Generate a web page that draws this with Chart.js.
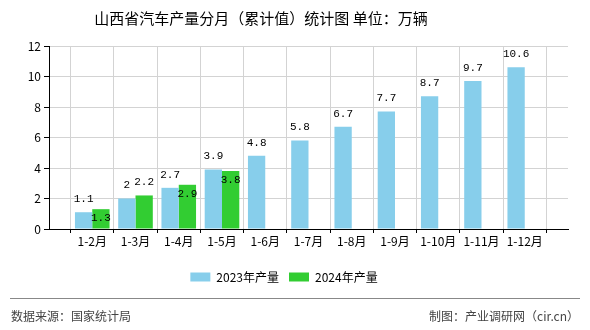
<!DOCTYPE html>
<html>
<head>
<meta charset="utf-8">
<script src="https://cdn.jsdelivr.net/npm/chart.js@4"></script>
<style>
  html, body { margin: 0; padding: 0; background: #fff; }
  #wrap { width: 590px; height: 330px; }
</style>
</head>
<body>
<div id="wrap"><canvas id="chart"></canvas></div>
<script>
const categories = ["", "1-2月", "1-3月", "1-4月", "1-5月", "1-6月", "1-7月", "1-8月", "1-9月", "1-10月", "1-11月", "1-12月", ""];
const output2023 = [null, 1.1, 2, 2.7, 3.9, 4.8, 5.8, 6.7, 7.7, 8.7, 9.7, 10.6, null];
const output2024 = [null, 1.3, 2.2, 2.9, 3.8, null, null, null, null, null, null, null, null];
const yTicks = [0, 2, 4, 6, 8, 10, 12];

const cjk = "'Noto Sans CJK SC', 'Noto Sans', sans-serif";

// value labels above the bars (some of the 2024 ones sit inside the bar top)
const valueLabels = {
  id: "valueLabels",
  afterDatasetsDraw(chart, args, opts) {
    const ctx = chart.ctx;
    ctx.save();
    ctx.font = "11px 'Liberation Mono', monospace";
    ctx.fillStyle = "#000";
    ctx.textAlign = "center";
    ctx.textBaseline = "middle";
    chart.data.datasets.forEach((ds, di) => {
      chart.getDatasetMeta(di).data.forEach((bar, i) => {
        const v = ds.data[i];
        if (v == null) return;
        const inside = (opts.inside[di] || []).includes(i);
        ctx.fillText(String(v), bar.x, bar.y + (inside ? 9 : -13));
      });
    });
    ctx.restore();
  },
};

// title and footer
const frame = {
  id: "frame",
  afterDraw(chart) {
    const ctx = chart.ctx;
    ctx.save();
    ctx.fillStyle = "#000";
    ctx.font = "15px " + cjk;
    ctx.textAlign = "center";
    ctx.textBaseline = "middle";
    ctx.fillText("山西省汽车产量分月（累计值）统计图 单位：万辆", 261, 18);

    ctx.strokeStyle = "#888";
    ctx.lineWidth = 1;
    ctx.beginPath();
    ctx.moveTo(10, 298.5);
    ctx.lineTo(580, 298.5);
    ctx.stroke();

    ctx.fillStyle = "#444";
    ctx.font = "12px " + cjk;
    ctx.textAlign = "left";
    ctx.fillText("数据来源：国家统计局", 11, 316);
    ctx.textAlign = "right";
    ctx.fillText("制图：产业调研网（cir.cn）", 579, 316);
    ctx.restore();
  },
};

new Chart(document.getElementById("chart"), {
  type: "bar",
  data: {
    labels: categories,
    datasets: [
      {
        label: "2023年产量",
        data: output2023,
        backgroundColor: "#87CEEB",
        categoryPercentage: 0.8,
        barPercentage: 1,
      },
      {
        label: "2024年产量",
        data: output2024,
        backgroundColor: "#32CD32",
        categoryPercentage: 0.8,
        barPercentage: 1,
      },
    ],
  },
  options: {
    responsive: true,
    maintainAspectRatio: false,
    animation: false,
    layout: { padding: { left: 0, right: 22, top: 46, bottom: 37 } },
    scales: {
      x: {
        offset: false,
        grid: { color: "#d3d3d3", tickColor: "#000", tickLength: 4 },
        border: { color: "#000" },
        ticks: {
          color: "#000",
          font: { size: 12, family: cjk },
          maxRotation: 0,
          autoSkip: false,
          padding: 1,
        },
        afterFit: (s) => { s.height = 32; },
      },
      y: {
        min: 0,
        max: 12,
        afterBuildTicks: (s) => { s.ticks = yTicks.map((v) => ({ value: v })); },
        grid: { color: "#d3d3d3", tickColor: "#000", tickLength: 5 },
        border: { color: "#000" },
        ticks: { color: "#000", font: { size: 12, family: cjk }, padding: 3 },
        afterFit: (s) => { s.width = 49; },
      },
    },
    plugins: {
      legend: {
        position: "bottom",
        labels: {
          boxWidth: 20,
          boxHeight: 9,
          padding: 10,
          color: "#000",
          font: { size: 12, family: cjk },
        },
      },
      tooltip: { enabled: false },
      valueLabels: { inside: { 1: [1, 3, 4] } },
    },
  },
  plugins: [valueLabels, frame],
});
</script>
</body>
</html>
